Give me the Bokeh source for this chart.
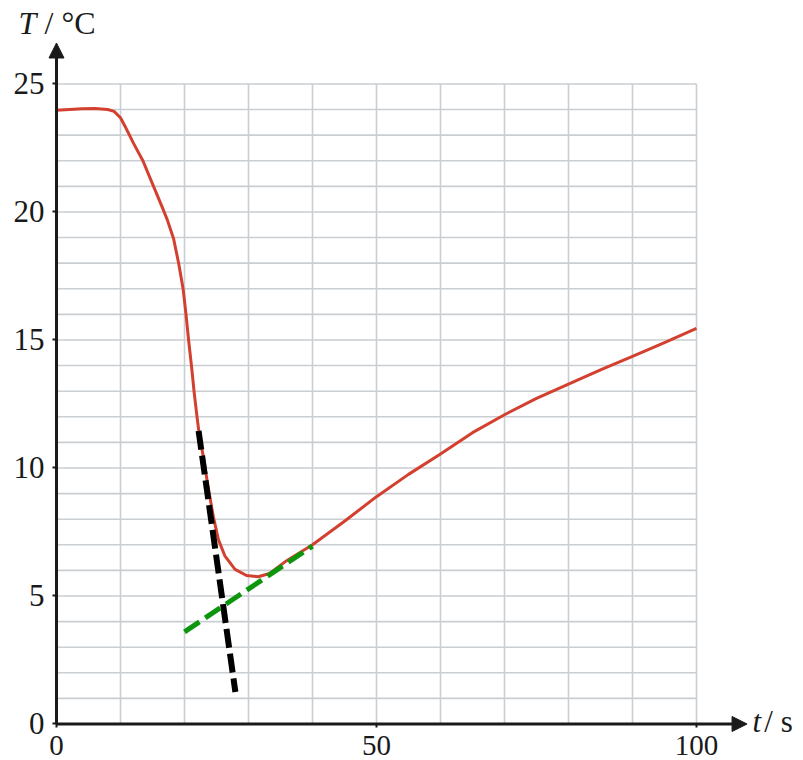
from bokeh.plotting import figure
from bokeh.models import Range1d, LinearAxis, FixedTicker, Arrow, NormalHead
from bokeh.core.properties import value
from bokeh.embed import file_html
from bokeh.resources import INLINE

# ---- data ----
t_data = [0, 2, 4, 6, 8, 9, 10, 10.7, 12, 13.5, 15, 16.5, 17.3, 18.3, 19.1,
          19.8, 20.25, 20.66, 21.1, 21.5, 21.98, 22.34, 22.9, 23.7, 24.5, 25.3,
          26.3, 27.9, 29.7, 31.5, 33.3, 35.9, 40, 45, 50, 55, 60, 65, 70, 75,
          80, 85, 90, 95, 100]
T_data = [23.97, 24.0, 24.03, 24.04, 24.0, 23.93, 23.68, 23.35, 22.7, 22.0,
          21.1, 20.2, 19.7, 18.95, 17.98, 16.97, 15.96, 14.95, 13.97, 12.97,
          11.95, 11.25, 10.5, 9.25, 8.1, 7.2, 6.57, 6.04, 5.8, 5.75, 5.88,
          6.37, 7.0, 7.92, 8.88, 9.75, 10.55, 11.38, 12.08, 12.72, 13.28,
          13.83, 14.36, 14.9, 15.45]

tangent_steep_t = [22.2, 27.95]
tangent_steep_T = [11.45, 1.25]
tangent_rise_t = [20.0, 40.0]
tangent_rise_T = [3.6, 6.95]

x_ticks = [0, 50, 100]
y_ticks = [0, 5, 10, 15, 20, 25]
grid_t = [10, 20, 30, 40, 50, 60, 70, 80, 90, 100]
grid_T = list(range(1, 26))
t_min, t_max = 0, 100
T_min, T_max = 0, 25
x_arrow_end = 107.9
y_arrow_end = 26.6

x_title_parts = ["t", "/ s"]
y_title_parts = ["T", "/ °C"]

# ---- figure ----
p = figure(width=803, height=760,
           x_range=Range1d(-8.75, 116.72), y_range=Range1d(-1.426, 28.26),
           x_axis_type=None, y_axis_type=None,
           output_backend="svg", toolbar_location=None, min_border=0)
p.outline_line_color = None
p.background_fill_color = "white"
p.border_fill_color = "white"

GRID = "#c9ced2"
# grid
p.segment(x0=grid_t, y0=[T_min] * len(grid_t), x1=grid_t, y1=[T_max] * len(grid_t),
          line_color=GRID, line_width=1.6)
p.segment(x0=[t_min] * len(grid_T), y0=grid_T, x1=[t_max] * len(grid_T), y1=grid_T,
          line_color=GRID, line_width=1.6)

# curve
p.line(t_data, T_data, line_color="#d3402f", line_width=3, line_join="round")

# tangents
p.line(tangent_steep_t, tangent_steep_T, line_color="black", line_width=6,
       line_dash="19 6")
p.line(tangent_rise_t, tangent_rise_T, line_color="#0d960d", line_width=5,
       line_dash="18 7")

FONT = "Liberation Serif"
INK = "#1a1a1a"

xaxis = LinearAxis(fixed_location=0, ticker=FixedTicker(ticks=x_ticks, minor_ticks=[]))
xaxis.axis_line_color = None
xaxis.major_tick_line_color = INK
xaxis.major_tick_line_width = 2
xaxis.major_tick_out = 4
xaxis.major_tick_in = 0
xaxis.minor_tick_line_color = None
xaxis.major_label_standoff = 8
xaxis.major_label_text_font = FONT
xaxis.major_label_text_font_size = "29px"
xaxis.major_label_text_color = INK
p.add_layout(xaxis, "below")

yaxis = LinearAxis(fixed_location=0, ticker=FixedTicker(ticks=y_ticks, minor_ticks=[]))
yaxis.axis_line_color = None
yaxis.major_tick_line_color = INK
yaxis.major_tick_line_width = 2
yaxis.major_tick_out = 4
yaxis.major_tick_in = 0
yaxis.minor_tick_line_color = None
yaxis.major_label_standoff = 8
yaxis.major_label_text_font = FONT
yaxis.major_label_text_font_size = "31px"
yaxis.major_label_text_color = INK
yaxis.major_label_orientation = "horizontal"
p.add_layout(yaxis, "left")

# axis lines with arrow heads
p.add_layout(Arrow(end=NormalHead(size=15, fill_color=INK, line_color=INK),
                   x_start=t_min, y_start=T_min, x_end=x_arrow_end, y_end=T_min,
                   line_color=INK, line_width=3))
p.add_layout(Arrow(end=NormalHead(size=15, fill_color=INK, line_color=INK),
                   x_start=t_min, y_start=T_min, x_end=t_min, y_end=y_arrow_end,
                   line_color=INK, line_width=3))

# axis titles
p.text(x=[-5.94], y=[27.4], text=[y_title_parts[0]], text_font=value(FONT),
       text_font_style="italic", text_font_size="32px", text_color=INK,
       text_baseline="middle", text_align="left")
p.text(x=[-1.875], y=[27.4], text=[y_title_parts[1]], text_font=value(FONT),
       text_font_size="32px", text_color=INK,
       text_baseline="middle", text_align="left")
p.text(x=[108.75], y=[0.1], text=[x_title_parts[0]], text_font=value(FONT),
       text_font_style="italic", text_font_size="31px", text_color=INK,
       text_baseline="middle", text_align="left")
p.text(x=[110.6], y=[0.1], text=[x_title_parts[1]], text_font=value(FONT),
       text_font_size="31px", text_color=INK,
       text_baseline="middle", text_align="left")

open("out.html", "w").write(file_html(p, INLINE))
